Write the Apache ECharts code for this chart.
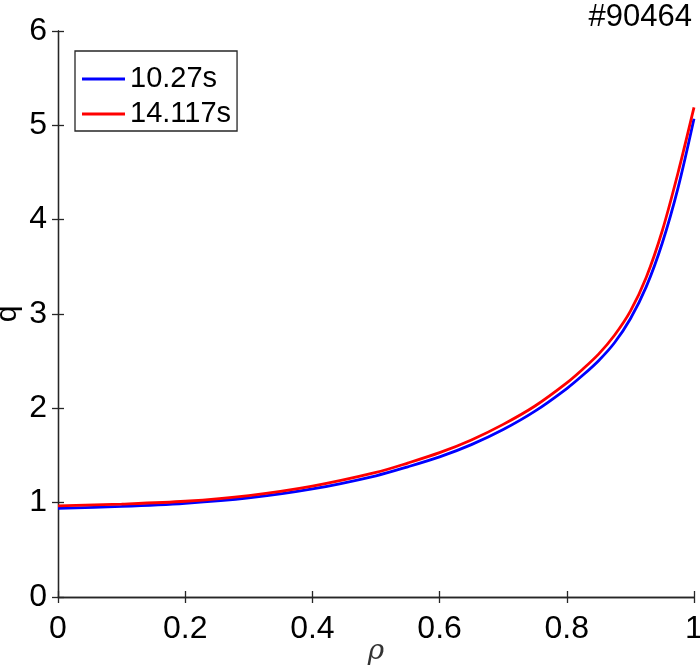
<!DOCTYPE html>
<html>
<head>
<meta charset="utf-8">
<script src="https://cdn.jsdelivr.net/npm/echarts@6/dist/echarts.min.js"></script>
<style>html,body{margin:0;padding:0;background:#fff}#c{width:700px;height:667px}</style>
</head>
<body>
<div id="c"></div>
<script>
var rho    = [0, 0.1, 0.2, 0.3, 0.4, 0.5, 0.55, 0.6, 0.65, 0.7, 0.75, 0.8, 0.825, 0.85, 0.875, 0.9, 0.925, 0.95, 0.975, 1.0];
var q1027  = [0.94, 0.96, 0.993, 1.05, 1.145, 1.285, 1.38, 1.485, 1.615, 1.775, 1.97, 2.21, 2.35, 2.505, 2.695, 2.95, 3.29, 3.75, 4.34, 5.07];
var q14117 = [0.965, 0.985, 1.015, 1.075, 1.175, 1.32, 1.42, 1.53, 1.665, 1.83, 2.025, 2.27, 2.415, 2.575, 2.775, 3.03, 3.39, 3.88, 4.50, 5.19];
var seriesNames = ['10.27s', '14.117s'];
var title = '#90464';

function pairs(xs, ys) { return xs.map(function (x, i) { return [x, ys[i]]; }); }

var font = '"Liberation Sans", Arial, sans-serif';
var axisColor = '#262626';
var chart = echarts.init(document.getElementById('c'));
var axisCommon = {
  axisLine: { show: true, lineStyle: { color: axisColor, width: 1.3 } },
  axisTick: { show: true, inside: true, length: 6, lineStyle: { color: axisColor, width: 1.3 } },
  splitLine: { show: false }
};
chart.setOption({
  animation: false,
  title: {
    text: title, right: 3, top: -3,
    textStyle: { fontFamily: font, fontSize: 31, fontWeight: 'normal', color: '#000' }
  },
  grid: { left: 58, right: 6, top: 31, bottom: 70, containLabel: false, outerBoundsMode: 'none' },
  legend: {
    orient: 'vertical', left: 75, top: 51,
    padding: [13, 6, 2, 7],
    itemGap: 5,
    itemWidth: 43, itemHeight: 3,
    icon: 'rect',
    borderColor: '#262626', borderWidth: 1.3,
    backgroundColor: '#fff',
    textStyle: { fontFamily: font, fontSize: 29, color: '#000', lineHeight: 30 },
    data: seriesNames
  },
  xAxis: [
    Object.assign({
      type: 'value', min: 0, max: 1, interval: 0.2, position: 'bottom',
      name: 'ρ', nameLocation: 'middle', nameGap: 41, nameMoveOverlap: false,
      nameTextStyle: { fontFamily: 'DejaVu Serif, serif', fontStyle: 'italic', fontSize: 28, color: '#333', verticalAlign: 'top' },
      axisLabel: { fontFamily: font, fontSize: 32, color: '#000', margin: 16,
        formatter: function (v) { return String(+v.toFixed(1)); } }
    }, axisCommon),
    Object.assign({
      type: 'value', min: 0, max: 1, interval: 0.2, position: 'top',
      axisLabel: { show: false }
    }, axisCommon)
  ],
  yAxis: [
    Object.assign({
      type: 'value', min: 0, max: 6, interval: 1, position: 'left',
      name: 'q', nameLocation: 'middle', nameGap: 35, nameMoveOverlap: false,
      nameTextStyle: { fontFamily: font, fontSize: 30, color: '#000' },
      axisLabel: { fontFamily: font, fontSize: 32, color: '#000', margin: 11 }
    }, axisCommon),
    Object.assign({
      type: 'value', min: 0, max: 6, interval: 1, position: 'right',
      axisLabel: { show: false }
    }, axisCommon)
  ],
  series: [
    { name: seriesNames[0], type: 'line', data: pairs(rho, q1027), smooth: 0.3, showSymbol: false,
      lineStyle: { color: '#0000ff', width: 2.8 }, itemStyle: { color: '#0000ff' } },
    { name: seriesNames[1], type: 'line', data: pairs(rho, q14117), smooth: 0.3, showSymbol: false,
      lineStyle: { color: '#ff0000', width: 2.8 }, itemStyle: { color: '#ff0000' } }
  ]
});
</script>
</body>
</html>
